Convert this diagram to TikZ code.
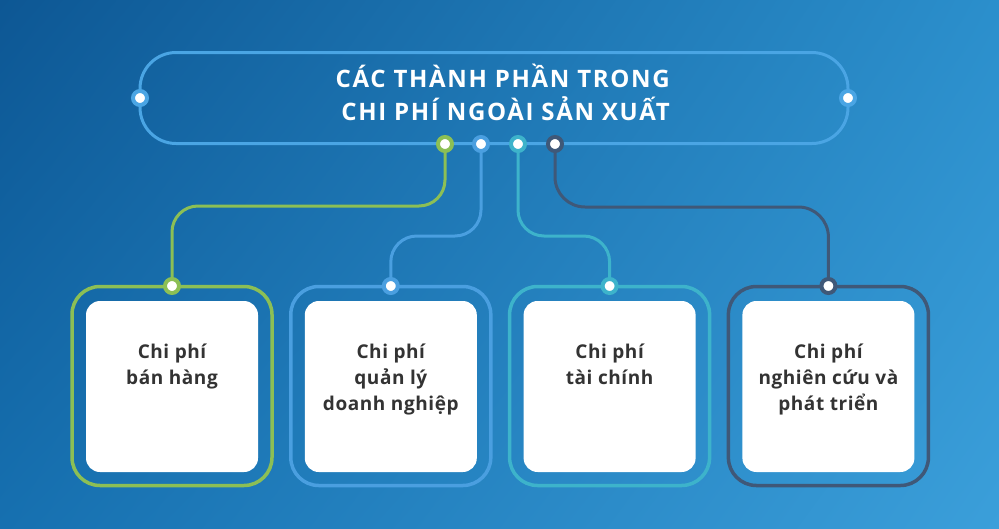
\documentclass[tikz,border=0pt]{standalone}
\usepackage{fontspec}
\setmainfont{Open Sans}
\newfontfamily\titlefont[LetterSpace=7]{Open Sans}
\newfontfamily\cardfont[LetterSpace=3]{Open Sans}
\usetikzlibrary{shadings}
\definecolor{bgUL}{HTML}{0D5794}
\definecolor{bgUR}{HTML}{2B8FCC}
\definecolor{bgLL}{HTML}{1670B0}
\definecolor{bgLR}{HTML}{3B9FDA}
\definecolor{cframe}{HTML}{4AA5E4}
\definecolor{cgreen}{HTML}{8CBF55}
\definecolor{cblue}{HTML}{4A9FE0}
\definecolor{cteal}{HTML}{3DB3CB}
\definecolor{cdark}{HTML}{3F5878}
\definecolor{ctext}{HTML}{333333}
\tikzset{
  x=1pt,y=-1pt,
  conn/.style={line width=3pt, rounded corners=26pt},
  dotnode/.style={circle, fill=white, draw=#1, line width=4pt, inner sep=0pt, minimum size=14pt},
  outerframe/.style={draw=#1, line width=3.5pt, rounded corners=28pt, minimum width=200pt, minimum height=199pt},
  card/.style={fill=white, rounded corners=14pt, minimum width=172pt, minimum height=171pt},
  cardtext/.style={text=ctext, font=\cardfont\bfseries\fontsize{19}{26}\selectfont, align=center, anchor=north, inner sep=0pt},
}
\begin{document}
\begin{tikzpicture}
\useasboundingbox (0,0) rectangle (999,528);
\shade[upper left=bgUL, upper right=bgUR, lower left=bgLL, lower right=bgLR] (0,0) rectangle (999,528);

% title frame
\node[draw=cframe, line width=3pt, rounded corners=36pt, minimum width=708pt, minimum height=91pt] (title) at (494,98) {};
\node[text=white, font=\titlefont\bfseries\fontsize{24}{33}\selectfont, align=right, anchor=east, inner sep=0pt] (titletext) at (670,92) {CÁC THÀNH PHẦN TRONG\\CHI PHÍ NGOÀI SẢN XUẤT};

% coordinates
\coordinate (tg) at (445,144);
\coordinate (tb) at (481,144);
\coordinate (tt) at (518,144);
\coordinate (td) at (555,144);
\coordinate (bg) at (172,286);
\coordinate (bb) at (390.8,286);
\coordinate (bt) at (609.6,286);
\coordinate (bd) at (828.4,286);

% frames and cards
\node[outerframe=cgreen] (f1) at (172,386) {};
\node[outerframe=cblue] (f2) at (390.8,386) {};
\node[outerframe=cteal] (f3) at (609.6,386) {};
\node[outerframe=cdark] (f4) at (828.4,386) {};
\node[card] (c1) at (172,386.5) {};
\node[card] (c2) at (390.8,386.5) {};
\node[card] (c3) at (609.6,386.5) {};
\node[card] (c4) at (828.4,386.5) {};

\node[cardtext] (t1) at (172,344) {Chi phí\\bán hàng};
\node[cardtext] (t2) at (390.8,344) {Chi phí\\quản lý\\doanh nghiệp};
\node[cardtext] (t3) at (609.6,344) {Chi phí\\tài chính};
\node[cardtext] (t4) at (828.4,344) {Chi phí\\nghiên cứu và\\phát triển};

% connectors
\draw[conn, cgreen] (tg) -- (445,206) -- (172,206) -- (bg);
\draw[conn, cblue] (tb) -- (481,236) -- (390.8,236) -- (bb);
\draw[conn, cteal] (tt) -- (518,236) -- (609.6,236) -- (bt);
\draw[conn, cdark, rounded corners=30pt] (td) -- (555,207) -- (828.4,207) -- (bd);

% dots
\node[dotnode=cframe] (dl) at (140,98) {};
\node[dotnode=cframe] (dr) at (848,98) {};
\node[dotnode=cgreen] (dtg) at (tg) {};
\node[dotnode=cblue] (dtb) at (tb) {};
\node[dotnode=cteal] (dtt) at (tt) {};
\node[dotnode=cdark] (dtd) at (td) {};
\node[dotnode=cgreen] (dbg) at (bg) {};
\node[dotnode=cblue] (dbb) at (bb) {};
\node[dotnode=cteal] (dbt) at (bt) {};
\node[dotnode=cdark] (dbd) at (bd) {};
\end{tikzpicture}
\end{document}
